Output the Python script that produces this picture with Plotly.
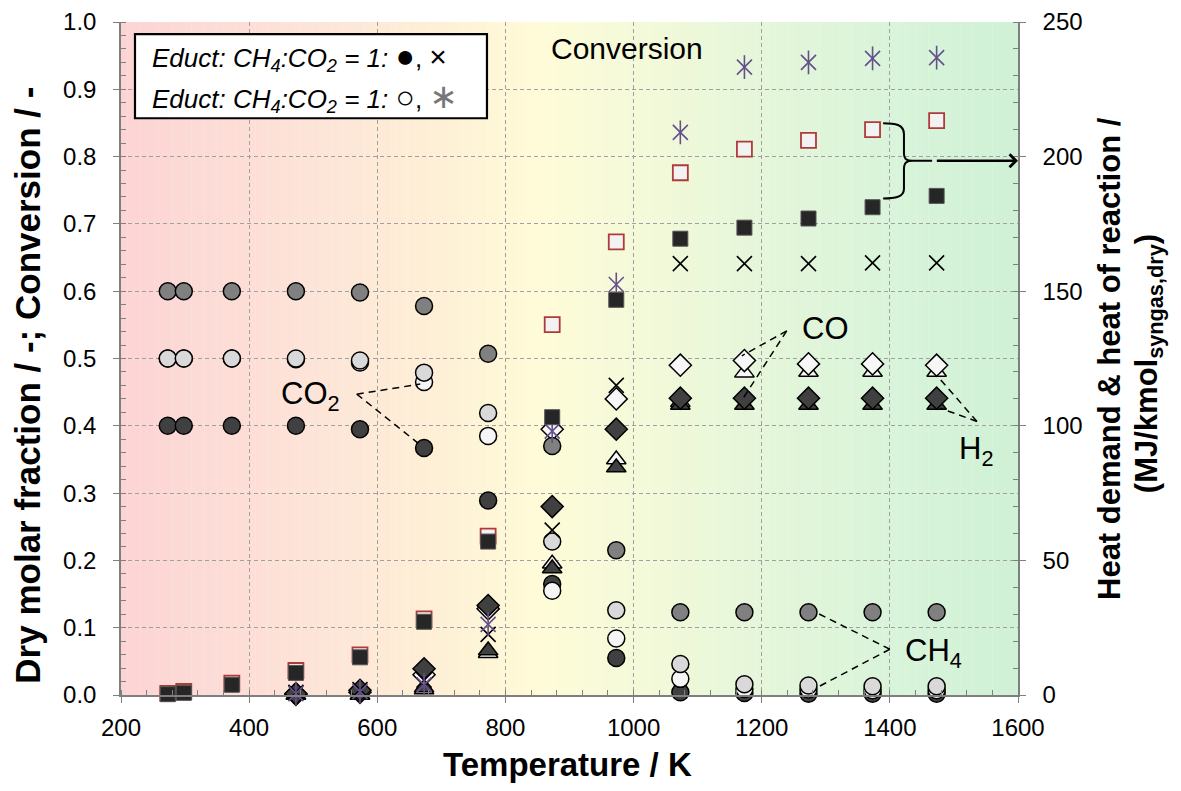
import plotly.graph_objects as go

# ---------------- data ----------------
T_all = [273, 298, 373, 473, 573, 673, 773, 873, 973, 1073, 1173, 1273, 1373, 1473]
T_hi = [473, 573, 673, 773, 873, 973, 1073, 1173, 1273, 1373, 1473]

# circles (dry molar fractions, left axis)
circ_medium = [0.600, 0.600, 0.600, 0.600, 0.598, 0.578, 0.507, 0.370, 0.215, 0.123, 0.123, 0.123, 0.123, 0.123]
circ_light = [0.500, 0.500, 0.500, 0.500, 0.497, 0.479, 0.419, 0.228, 0.126, 0.046, 0.016, 0.014, 0.013, 0.013]
circ_white = [0.500, 0.500, 0.500, 0.499, 0.494, 0.465, 0.385, 0.155, 0.084, 0.024, 0.009, 0.008, 0.007, 0.007]
circ_dark = [0.400, 0.400, 0.400, 0.400, 0.395, 0.367, 0.289, 0.165, 0.055, 0.004, 0.003, 0.002, 0.002, 0.002]

# squares (heat demand, right axis, MJ/kmol)
heat_filled = [0.3, 0.8, 3.8, 8.2, 14.0, 27.2, 57.0, 103.2, 146.8, 169.5, 173.6, 177.0, 181.2, 185.4]
heat_open = [0.6, 1.3, 4.4, 9.1, 14.9, 28.3, 59.0, 137.6, 168.3, 194.0, 202.8, 206.0, 210.0, 213.4]

# diamonds / triangles (left axis)
diam_dark = [0.002, 0.007, 0.039, 0.133, 0.280, 0.395, 0.441, 0.441, 0.441, 0.441, 0.441]
diam_white = [0.001, 0.004, 0.030, 0.128, 0.395, 0.440, 0.490, 0.497, 0.492, 0.492, 0.490]
tri_dark = [0.000, 0.000, 0.011, 0.066, 0.188, 0.338, 0.431, 0.431, 0.431, 0.431, 0.431]
tri_white = [0.000, 0.000, 0.008, 0.062, 0.195, 0.350, 0.435, 0.479, 0.480, 0.480, 0.480]

# conversions (left axis)
conv_x = [0.004, 0.008, 0.022, 0.090, 0.245, 0.460, 0.641, 0.641, 0.641, 0.642, 0.642]
conv_star = [0.002, 0.005, 0.015, 0.105, 0.392, 0.610, 0.836, 0.933, 0.940, 0.946, 0.947]

x_ticks = [200, 400, 600, 800, 1000, 1200, 1400, 1600]
y_ticks = [0.0, 0.1, 0.2, 0.3, 0.4, 0.5, 0.6, 0.7, 0.8, 0.9, 1.0]
y2_ticks = [0, 50, 100, 150, 200, 250]

FONT = "Liberation Sans, Arial, sans-serif"

fig = go.Figure()

# background gradient (style only)
stops = [(200, (252, 212, 212)), (500, (253, 228, 216)), (700, (254, 240, 214)),
         (850, (255, 251, 216)), (1000, (244, 250, 217)), (1200, (229, 246, 218)),
         (1400, (217, 244, 218)), (1600, (207, 241, 213))]


def grad_color(xv):
    for (xa, ca), (xb, cb) in zip(stops[:-1], stops[1:]):
        if xa <= xv <= xb:
            f = (xv - xa) / (xb - xa)
            c = [round(ca[i] + f * (cb[i] - ca[i])) for i in range(3)]
            return "rgb(%d,%d,%d)" % tuple(c)
    return "rgb(%d,%d,%d)" % stops[-1][1]


shapes = []
step = 10
xs = 200
while xs < 1600:
    shapes.append(dict(type="rect", xref="x", yref="paper", x0=xs, x1=xs + step + 0.5, y0=0, y1=1,
                       fillcolor=grad_color(xs + step / 2), line=dict(width=0), layer="below"))
    xs += step


def add(x, y, symbol, fill, line_color="black", lw=1.5, size=16, yaxis="y"):
    fig.add_trace(go.Scatter(x=x, y=y, mode="markers", yaxis=yaxis, cliponaxis=False,
                             showlegend=False, hoverinfo="skip",
                             marker=dict(symbol=symbol, size=size, color=fill,
                                         line=dict(color=line_color, width=lw))))


# squares on right axis
add(T_all, heat_open, "square", "#f2f2f2", "#b03a3a", 1.8, 15, "y2")
add(T_all, heat_filled, "square", "#262626", "#555555", 1.0, 15, "y2")
# triangles
add(T_hi, tri_white, "triangle-up", "#f7f7f7", "black", 1.5, 17)
add(T_hi, tri_dark, "triangle-up", "#404040", "black", 1.5, 17)
# diamonds
add(T_hi, diam_white, "diamond", "#f7f7f7", "black", 1.5, 17)
add(T_hi, diam_dark, "diamond", "#404040", "black", 1.5, 17)
# circles
add(T_all, circ_dark, "circle", "#404040", "black", 1.5, 17)
add(T_all, circ_white, "circle", "#f5f5f5", "black", 1.5, 17)
add(T_all, circ_light, "circle", "#d9d9d9", "black", 1.5, 17)
add(T_all, circ_medium, "circle", "#808080", "black", 1.5, 17)
# conversions
add(T_hi, conv_x, "x-thin", "black", "black", 1.6, 15)
add(T_hi, conv_star, "x-thin", "#64508a", "#64508a", 1.6, 15)
add(T_hi, conv_star, "line-ns", "#64508a", "#64508a", 1.6, 17)


# leader lines (dashed)
def dline(x0, y0, x1, y1):
    shapes.append(dict(type="line", xref="x", yref="y", x0=x0, y0=y0, x1=x1, y1=y1,
                       line=dict(color="black", width=1.5, dash="7px,5px"), layer="above"))


dline(568, 0.447, 667, 0.462)
dline(568, 0.447, 664, 0.374)
dline(1239, 0.541, 1169, 0.504)
dline(1239, 0.541, 1169, 0.438)
dline(1536, 0.4065, 1473, 0.475)
dline(1536, 0.4065, 1479, 0.426)
dline(1400, 0.068, 1286, 0.122)
dline(1400, 0.068, 1288, 0.012)

# brace
shapes.append(dict(type="path", xref="x", yref="y",
                   path="M 1389.5,0.8496 C 1408,0.8496 1422,0.848 1422,0.8334 L 1422,0.806 "
                        "C 1422,0.796 1426,0.7937 1436,0.7937 L 1466,0.7937 "
                        "M 1436,0.7937 C 1426,0.7937 1422,0.791 1422,0.781 L 1422,0.752 "
                        "C 1422,0.740 1408,0.7378 1389.5,0.7378",
                   line=dict(color="black", width=2)))

# legend box
shapes.append(dict(type="rect", xref="paper", yref="paper", x0=0.0156, x1=0.408, y0=0.857, y1=0.982,
                   fillcolor="white", line=dict(color="black", width=2.2), layer="above"))

TITLE = dict(family=FONT, size=33, color="black")
RTITLE = dict(family=FONT, size=31, color="black")
LBL = dict(family=FONT, size=31, color="black")
LEG = dict(family=FONT, size=26, color="black")

annotations = [
    dict(x=1600, y=0.7937, ax=1471, ay=0.7937, xref="x", yref="y", axref="x", ayref="y",
         showarrow=True, arrowhead=4, arrowsize=1.0, arrowwidth=2.5, arrowcolor="black", text=""),
    dict(x=0.0323, y=0.9485, xref="paper", yref="paper", xanchor="left", yanchor="middle", showarrow=False,
         text="<i>Educt: CH<sub>4</sub>:CO<sub>2</sub> = 1:</i> "
              "<span style='font-size:32px'>●</span>, <span style='font-size:30px'>×</span>", font=LEG),
    dict(x=0.0323, y=0.8897, xref="paper", yref="paper", xanchor="left", yanchor="middle", showarrow=False,
         text="<i>Educt: CH<sub>4</sub>:CO<sub>2</sub> = 1:</i> "
              "<span style='font-size:32px'>○</span>, "
              "<span style='font-family:DejaVu Sans;font-size:34px;color:#777777'>∗</span>", font=LEG),
    dict(x=990, y=0.96, xref="x", yref="y", xanchor="center", yanchor="middle", showarrow=False,
         text="Conversion", font=dict(family=FONT, size=30, color="black")),
    dict(x=496, y=0.444, xref="x", yref="y", xanchor="center", yanchor="middle", showarrow=False,
         text="CO<sub>2</sub>", font=LBL),
    dict(x=1300, y=0.545, xref="x", yref="y", xanchor="center", yanchor="middle", showarrow=False,
         text="CO", font=LBL),
    dict(x=1535, y=0.363, xref="x", yref="y", xanchor="center", yanchor="middle", showarrow=False,
         text="H<sub>2</sub>", font=LBL),
    dict(x=1468, y=0.063, xref="x", yref="y", xanchor="center", yanchor="middle", showarrow=False,
         text="CH<sub>4</sub>", font=LBL),
    # axis titles
    dict(x=-0.1045, y=0.46, xref="paper", yref="paper", xanchor="center", yanchor="middle",
         showarrow=False, textangle=-90,
         text="<b>Dry molar fraction / -; Conversion / -</b>", font=dict(family=FONT, size=35, color="black")),
    dict(x=0.498, y=-0.103, xref="paper", yref="paper", xanchor="center", yanchor="middle",
         showarrow=False, text="<b>Temperature / K</b>", font=TITLE),
    dict(x=1.102, y=0.5, xref="paper", yref="paper", xanchor="center", yanchor="middle",
         showarrow=False, textangle=-90,
         text="<b>Heat demand &amp; heat of reaction /</b>", font=RTITLE),
    dict(x=1.146, y=0.493, xref="paper", yref="paper", xanchor="center", yanchor="middle",
         showarrow=False, textangle=-90,
         text="<b>(MJ/kmol<sub>syngas,dry</sub>)</b>", font=RTITLE),
]

axis_common = dict(showline=True, linecolor="#7f7f7f", linewidth=1.5, ticks="outside", ticklen=6,
                   tickcolor="#7f7f7f", tickwidth=1.2, zeroline=False, ticklabeloverflow="allow",
                   automargin=False,
                   tickfont=dict(family=FONT, size=24, color="black"))

fig.update_layout(
    width=1181, height=791,
    margin=dict(l=113, r=171, t=14, b=104),
    paper_bgcolor="white", plot_bgcolor="white",
    showlegend=False,
    shapes=shapes, annotations=annotations,
    xaxis=dict(range=[200, 1600], tickvals=x_ticks, showgrid=True, gridcolor="#a0a0a0",
               griddash="4px,3px", gridwidth=1, ticklabelstandoff=4,
               minor=dict(dtick=40, tick0=200, ticks="inside", ticklen=5, tickcolor="#7f7f7f", showgrid=False),
               **axis_common),
    yaxis=dict(range=[0, 1], tickvals=y_ticks, tickformat=".1f", showgrid=True, gridcolor="#a0a0a0",
               griddash="4px,3px", gridwidth=1, ticklabelstandoff=12,
               minor=dict(dtick=0.02, tick0=0, ticks="inside", ticklen=5, tickcolor="#7f7f7f", showgrid=False),
               **axis_common),
    yaxis2=dict(range=[0, 250], tickvals=y2_ticks, overlaying="y", side="right", showgrid=False,
                ticklabelstandoff=12,
                minor=dict(dtick=10, tick0=0, ticks="inside", ticklen=5, tickcolor="#7f7f7f", showgrid=False),
                **axis_common),
)

fig.write_html("out.html")
